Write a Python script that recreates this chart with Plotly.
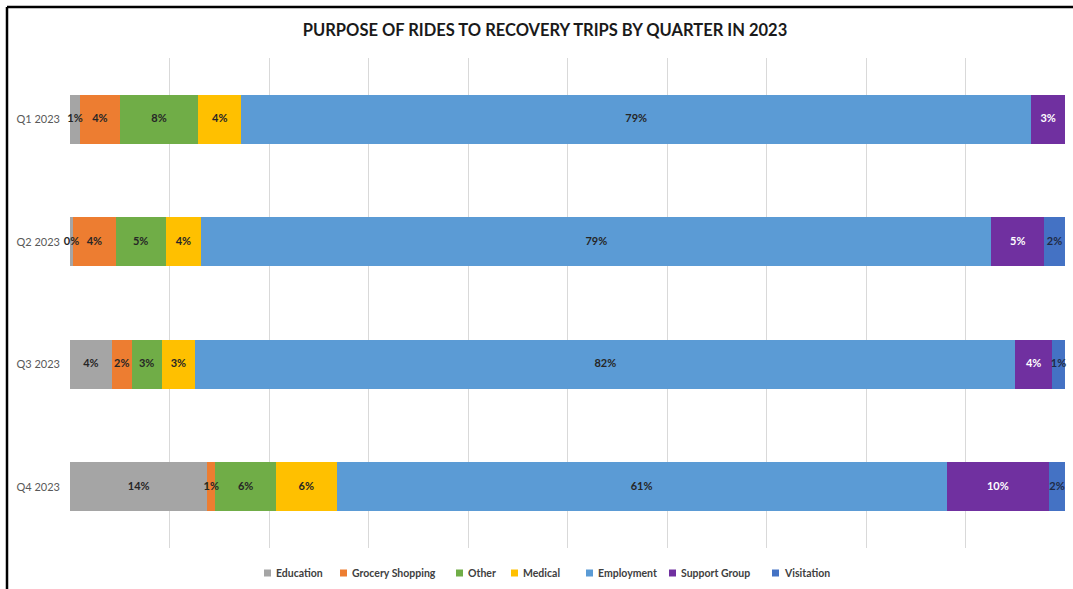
import plotly.graph_objects as go

# Share of rides (%) per trip purpose, by quarter
quarters = ["Q1 2023", "Q2 2023", "Q3 2023", "Q4 2023"]
education = [1.0, 0.3, 4.2, 13.8]
grocery = [4.0, 4.3, 2.0, 0.8]
other = [7.9, 5.0, 3.0, 6.1]
medical = [4.3, 3.6, 3.4, 6.1]
employment = [79.4, 79.4, 82.4, 61.3]
support_group = [3.4, 5.3, 3.7, 10.3]
visitation = [None, 2.1, 1.3, 1.6]

series = [
    ("Education", education, "#A5A5A5", "#262626"),
    ("Grocery Shopping", grocery, "#ED7D31", "#262626"),
    ("Other", other, "#70AD47", "#262626"),
    ("Medical", medical, "#FFC000", "#262626"),
    ("Employment", employment, "#5B9BD5", "#262626"),
    ("Support Group", support_group, "#7030A0", "#FFFFFF"),
    ("Visitation", visitation, "#4472C4", "#1F2A44"),
]

# Left edge (px) of each legend key
legend_x = [264, 340, 456, 511, 586, 669, 772]

FONT = "Lato, Open Sans, sans-serif"

W, H = 1073, 589
L, R, T, B = 70, 8, 58, 41
pw, ph = W - L - R, H - T - B

fig = go.Figure()

# Stacked segments
for name, vals, color, _ in series:
    fig.add_trace(go.Bar(
        y=quarters, x=vals, name=name, orientation="h",
        marker=dict(color=color, line=dict(width=0)),
        hoverinfo="skip", showlegend=False,
    ))

# Data labels, drawn above every segment at each segment's midpoint
running = [0.0] * len(quarters)
for name, vals, _, txtcolor in series:
    xs, ys, labels = [], [], []
    for i, v in enumerate(vals):
        if v is None:
            continue
        xs.append(running[i] + v / 2)
        ys.append(quarters[i])
        labels.append(f"{v:.0f}%")
        running[i] += v
    fig.add_trace(go.Scatter(
        x=xs, y=ys, mode="text", text=labels, textposition="middle center",
        textfont=dict(family=FONT, size=11, color=txtcolor, weight="bold"),
        cliponaxis=False, hoverinfo="skip", showlegend=False,
    ))


def px_to_paper_x(px):
    return (px - L) / pw


def px_to_paper_y(py):
    return (T + ph - py) / ph


# Legend keys: small colour square followed by the series name
leg_y = 573
for (name, _, color, _), lx in zip(series, legend_x):
    fig.add_shape(type="rect", xref="paper", yref="paper",
                  x0=px_to_paper_x(lx), x1=px_to_paper_x(lx + 7),
                  y0=px_to_paper_y(leg_y + 3.5), y1=px_to_paper_y(leg_y - 3.5),
                  fillcolor=color, line=dict(width=0))
    fig.add_annotation(text=f"<b>{name}</b>", xref="paper", yref="paper",
                       x=px_to_paper_x(lx + 10), y=px_to_paper_y(leg_y),
                       xanchor="left", yanchor="middle", showarrow=False,
                       font=dict(family=FONT, size=10.5, color="#404040"))

fig.update_layout(
    width=W, height=H,
    barmode="stack", bargap=0.6,
    plot_bgcolor="white", paper_bgcolor="white",
    margin=dict(l=L, r=R, t=T, b=B),
    font=dict(family=FONT, color="#595959"),
    title=dict(text="<b>PURPOSE OF RIDES TO RECOVERY TRIPS BY QUARTER IN 2023</b>",
               x=545 / W, xanchor="center", y=1 - 30 / H, yanchor="middle",
               font=dict(family=FONT, size=16.5, color="#1a1a1a")),
    xaxis=dict(range=[0, 100.0001], tickvals=list(range(0, 101, 10)),
               showticklabels=False,
               showgrid=True, gridcolor="#D9D9D9", gridwidth=1,
               zeroline=False, showline=False, ticks=""),
    yaxis=dict(autorange="reversed", showgrid=False, showline=False,
               ticks="", ticklabelstandoff=9,
               tickfont=dict(family=FONT, size=11, color="#595959")),
    showlegend=False,
)

# Frame along the top and left edges of the chart
x_left = px_to_paper_x(7)
y_top = px_to_paper_y(7)
fig.add_shape(type="line", xref="paper", yref="paper",
              x0=x_left, x1=px_to_paper_x(W + 5), y0=y_top, y1=y_top,
              line=dict(color="black", width=2.5))
fig.add_shape(type="line", xref="paper", yref="paper",
              x0=x_left, x1=x_left, y0=y_top, y1=px_to_paper_y(H + 5),
              line=dict(color="black", width=2.5))

fig.write_html("out.html")
